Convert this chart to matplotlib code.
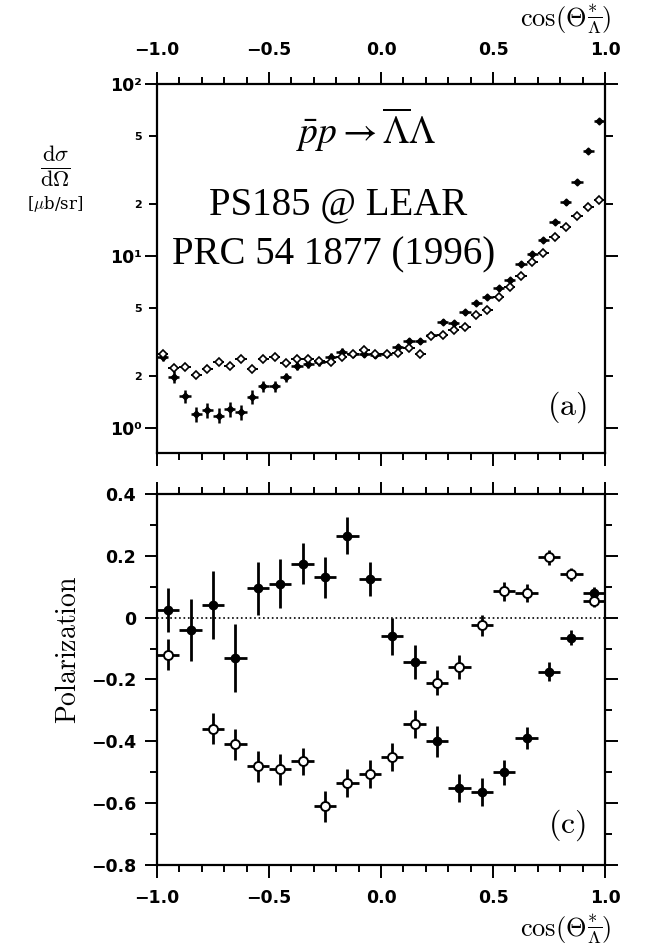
import numpy as np
import matplotlib.pyplot as plt
from matplotlib.ticker import FixedLocator, FixedFormatter

###DATA

##Top panel: differential cross section, 40 bins in cos(theta)
cos_bins = [-0.975, -0.925, -0.875, -0.825, -0.775, -0.725, -0.675, -0.625, -0.575, -0.525,
            -0.475, -0.425, -0.375, -0.325, -0.275, -0.225, -0.175, -0.125, -0.075, -0.025,
            0.025, 0.075, 0.125, 0.175, 0.225, 0.275, 0.325, 0.375, 0.425, 0.475,
            0.525, 0.575, 0.625, 0.675, 0.725, 0.775, 0.825, 0.875, 0.925, 0.975]

xs_filled = [2.60, 1.99, 1.53, 1.21, 1.27, 1.18, 1.28, 1.24, 1.52, 1.75,
             1.75, 1.97, 2.29, 2.35, 2.41, 2.60, 2.78, 2.69, 2.69, 2.66,
             2.69, 2.94, 3.20, 3.20, 3.47, 4.15, 4.05, 4.70, 5.31, 5.79,
             6.49, 7.25, 9.0, 10.3, 12.4, 15.8, 20.5, 27.0, 40.8, 60.9]
xs_filled_rel = [0.06, 0.08, 0.09, 0.10, 0.10, 0.10, 0.10, 0.10, 0.09, 0.07,
                 0.07, 0.06, 0.05, 0.05, 0.05, 0.05, 0.05, 0.04, 0.04, 0.04,
                 0.04, 0.04, 0.04, 0.04, 0.04, 0.03, 0.03, 0.03, 0.03, 0.03,
                 0.03, 0.03, 0.03, 0.03, 0.03, 0.03, 0.03, 0.03, 0.03, 0.03]

xs_open = [2.69, 2.22, 2.25, 2.03, 2.19, 2.43, 2.29, 2.51, 2.19, 2.51,
           2.57, 2.40, 2.51, 2.51, 2.45, 2.43, 2.57, 2.69, 2.84, 2.69,
           2.69, 2.74, 2.90, 2.69, 3.43, 3.47, 3.71, 3.88, 4.54, 4.85,
           5.75, 6.63, 7.64, 9.28, 10.4, 12.9, 14.8, 17.1, 19.3, 21.2]
xs_open_rel = [0.04, 0.03, 0.03, 0.03, 0.03, 0.03, 0.03, 0.03, 0.03, 0.03,
               0.03, 0.03, 0.03, 0.03, 0.03, 0.03, 0.03, 0.03, 0.03, 0.03,
               0.03, 0.03, 0.03, 0.03, 0.03, 0.03, 0.03, 0.03, 0.03, 0.03,
               0.03, 0.03, 0.03, 0.03, 0.03, 0.03, 0.03, 0.03, 0.03, 0.03]

##Bottom panel: polarization, 20 bins in cos(theta)
pol_bins = [-0.95, -0.85, -0.75, -0.65, -0.55, -0.45, -0.35, -0.25, -0.15, -0.05,
            0.05, 0.15, 0.25, 0.35, 0.45, 0.55, 0.65, 0.75, 0.85, 0.95]

pol_filled = [0.025, -0.04, 0.04, -0.13, 0.095, 0.11, 0.175, 0.13, 0.265, 0.125,
              -0.06, -0.145, -0.40, -0.55, -0.565, -0.50, -0.39, -0.175, -0.065, 0.08]
pol_filled_err = [0.07, 0.10, 0.11, 0.11, 0.085, 0.08, 0.065, 0.065, 0.06, 0.055,
                  0.06, 0.055, 0.05, 0.045, 0.045, 0.04, 0.035, 0.03, 0.025, 0.02]

pol_open_bins = [-0.95, -0.75, -0.65, -0.55, -0.45, -0.35, -0.25, -0.15, -0.05,
                 0.05, 0.15, 0.25, 0.35, 0.45, 0.55, 0.65, 0.75, 0.85, 0.95]
pol_open = [-0.12, -0.36, -0.41, -0.48, -0.49, -0.465, -0.61, -0.535, -0.505,
            -0.45, -0.345, -0.21, -0.16, -0.025, 0.085, 0.08, 0.195, 0.14, 0.055]
pol_open_err = [0.05, 0.05, 0.05, 0.05, 0.05, 0.045, 0.05, 0.045, 0.045,
                0.045, 0.045, 0.04, 0.04, 0.035, 0.03, 0.03, 0.025, 0.02, 0.02]

xs_ticks = [1, 2, 5, 10, 20, 50, 100]
xs_ticklabels = ['10\u2070', '2', '5', '10\u00b9', '2', '5', '10\u00b2']
pol_ticklabels = ['\u22120.8', '\u22120.6', '\u22120.4', '\u22120.2', '0', '0.2', '0.4']
cos_ticklabels = ['\u22121.0', '\u22120.5', '0.0', '0.5', '1.0']

###Plotting

fig = plt.figure(figsize=(6.54, 9.49), dpi=100)
ax1 = fig.add_axes([0.2401, 0.5227, 0.6850, 0.3888])
ax2 = fig.add_axes([0.2401, 0.0885, 0.6850, 0.3910])

tick_font = dict(family='DejaVu Sans', weight='bold', size=12.5)

def style_axes(ax):
    for s in ax.spines.values():
        s.set_linewidth(1.6)
    ax.set_xlim(-1.0, 1.0)
    ax.xaxis.set_major_locator(FixedLocator([-1.0, -0.5, 0.0, 0.5, 1.0]))
    ax.xaxis.set_minor_locator(FixedLocator([-0.9, -0.8, -0.7, -0.6, -0.4, -0.3, -0.2, -0.1,
                                             0.1, 0.2, 0.3, 0.4, 0.6, 0.7, 0.8, 0.9]))
    ax.tick_params(which='both', direction='out', top=True, right=True, width=1.4)
    ax.tick_params(which='major', length=9)
    ax.tick_params(which='minor', length=5)

##Top panel
style_axes(ax1)
ax1.set_yscale('log')
ax1.set_ylim(0.715, 100)
ax1.errorbar(cos_bins, xs_filled, xerr=0.025, yerr=np.array(xs_filled) * np.array(xs_filled_rel),
             fmt='D', ms=3.5, color='black', mfc='black', elinewidth=1.8, capsize=0)
ax1.errorbar(cos_bins, xs_open, xerr=0.025, yerr=np.array(xs_open) * np.array(xs_open_rel),
             fmt='D', ms=4.5, color='black', mfc='white', mew=1.2, elinewidth=1.4, capsize=0)
ax1.yaxis.set_major_locator(FixedLocator(xs_ticks))
ax1.yaxis.set_major_formatter(FixedFormatter(xs_ticklabels))
ax1.yaxis.set_minor_locator(FixedLocator([]))
ax1.xaxis.set_major_formatter(FixedFormatter(cos_ticklabels))
ax1.tick_params(axis='x', labelbottom=False, labeltop=True, pad=9)
ax1.tick_params(axis='y', pad=2)
for lab in ax1.get_xticklabels():
    lab.set(**tick_font)
for i, lab in enumerate(ax1.get_yticklabels()):
    lab.set(**tick_font)
    if xs_ticklabels[i] in ('2', '5'):
        lab.set_fontsize(8)
# shorter ticks at 2 and 5
for i, t in enumerate(ax1.yaxis.get_major_ticks()):
    if xs_ticklabels[i] in ('2', '5'):
        t.tick1line.set_markersize(6)
        t.tick2line.set_markersize(6)

ax1.text(-0.065, 54, r'$\bar{p}p \rightarrow \overline{\Lambda}\Lambda$', fontsize=27,
         ha='center', va='center', math_fontfamily='stix')
ax1.text(-0.19, 19.8, 'PS185 @ LEAR', fontsize=28, family='Liberation Serif', ha='center', va='center')
ax1.text(-0.21, 10.1, 'PRC 54 1877 (1996)', fontsize=28, family='Liberation Serif', ha='center', va='center')
ax1.text(0.83, 1.32, r'$\mathrm{(a)}$', fontsize=23, ha='center', va='center', math_fontfamily='cm')

##Bottom panel
style_axes(ax2)
ax2.set_ylim(-0.8, 0.4)
ax2.axhline(0, color='black', ls=':', lw=1.2)
ax2.errorbar(pol_bins, pol_filled, xerr=0.05, yerr=pol_filled_err,
             fmt='o', ms=6, color='black', mfc='black', elinewidth=2.0, capsize=0)
ax2.errorbar(pol_open_bins, pol_open, xerr=0.05, yerr=pol_open_err,
             fmt='o', ms=6.5, color='black', mfc='white', mew=1.4, elinewidth=2.0, capsize=0)
ax2.yaxis.set_major_locator(FixedLocator([-0.8, -0.6, -0.4, -0.2, 0.0, 0.2, 0.4]))
ax2.yaxis.set_minor_locator(FixedLocator([-0.7, -0.5, -0.3, -0.1, 0.1, 0.3]))
ax2.yaxis.set_major_formatter(FixedFormatter(pol_ticklabels))
ax2.xaxis.set_major_formatter(FixedFormatter(cos_ticklabels))
ax2.tick_params(axis='x', pad=8)
ax2.tick_params(axis='y', pad=6)
for lab in ax2.get_xticklabels() + ax2.get_yticklabels():
    lab.set(**tick_font)
ax2.text(0.83, -0.67, r'$\mathrm{(c)}$', fontsize=23, ha='center', va='center', math_fontfamily='cm')

##Axis labels
cos_label = r'$\cos(\Theta^{*}_{\overline{\Lambda}})$'
fig.text(0.935, 0.979, cos_label, fontsize=19, ha='right', va='center', math_fontfamily='cm')
fig.text(0.935, 0.020, cos_label, fontsize=19, ha='right', va='center', math_fontfamily='cm')
fig.text(0.084, 0.824, r'$\frac{\mathrm{d}\sigma}{\mathrm{d}\Omega}$', fontsize=23,
         ha='center', va='center', math_fontfamily='cm')
fig.text(0.084, 0.785, r'[$\mu$b/sr]', fontsize=12, ha='center', va='center',
         family='DejaVu Serif', math_fontfamily='cm')
fig.text(0.104, 0.315, r'$\mathrm{Polarization}$', fontsize=20, rotation=90,
         ha='center', va='center', math_fontfamily='cm')

plt.savefig('out.png', dpi=100)
